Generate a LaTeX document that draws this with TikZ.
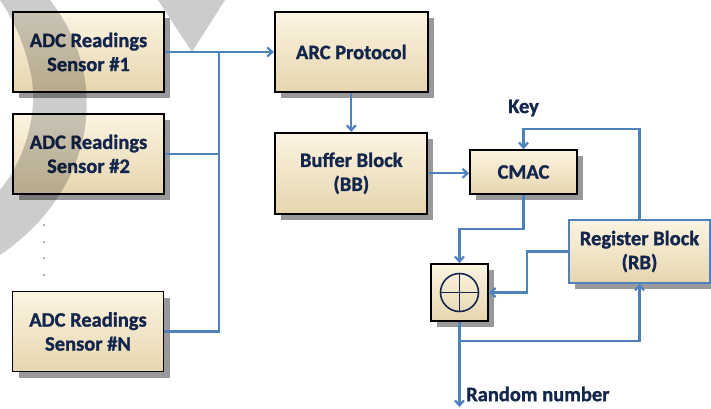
\documentclass[tikz,border=0pt]{standalone}
\usepackage{fontspec}
\setmainfont{Carlito}[BoldFeatures={FakeBold=1.2}]
\usepackage{xcolor}
\usetikzlibrary{arrows.meta, positioning, shadows, calc}

\definecolor{boxtop}{RGB}{252,244,226}
\definecolor{boxbot}{RGB}{230,214,174}
\definecolor{linkblue}{RGB}{79,129,189}
\definecolor{textblue}{RGB}{20,38,76}

\begin{document}
\begin{tikzpicture}[
    x=1pt, y=-1pt,
    >={Straight Barb[length=5pt, width=9pt]},
    block/.style={draw, line width=1.8pt, top color=boxtop, bottom color=boxbot, align=center,
        font=\bfseries\fontsize{20.5}{24}\selectfont, text=textblue, inner sep=0pt,
        drop shadow={shadow xshift=6pt, shadow yshift=-6pt, fill=black, opacity=.4}},
    sensor/.style={block, minimum width=151pt, minimum height=80pt},
    wire/.style={draw=linkblue, line width=2.2pt},
    tag/.style={font=\bfseries\fontsize{20.5}{24}\selectfont, text=textblue, inner sep=0pt}
]
\useasboundingbox (0,0) rectangle (711,408);

% inputs
\node[sensor] (Sensor1) at (88.5,52) {ADC Readings\\Sensor \#1};
\node[sensor, below=20pt of Sensor1] (Sensor2) {ADC Readings\\Sensor \#2};
\node[sensor] (SensorN) at (88,331.5) {ADC Readings\\Sensor \#N};
\foreach \y in {225,242,258,275}
    \fill[gray] (44,\y) circle (1pt);

% processing chain
\node[block, minimum width=153pt, minimum height=80pt, right=109pt of Sensor1] (ARC) {ARC Protocol};
\node[block, minimum width=152pt, minimum height=81pt, below=39pt of ARC] (Buffer) {Buffer Block\\(BB)};
\node[block, minimum width=107pt, minimum height=44pt] (CMAC) at (523.5,172) {CMAC};
\node[block, draw=linkblue, line width=1.4pt, minimum width=141pt, minimum height=63pt] (Register) at (639.5,251.5) {Register Block\\(RB)};
\node[block, minimum width=57pt, minimum height=57pt] (Xor) at (459.5,292.5) {};
\node[circle, draw=textblue, line width=1.6pt, minimum size=38pt, inner sep=0pt] (XorSign) at (Xor.center) {};
\draw[textblue, line width=1.6pt] (XorSign.north) -- (XorSign.south) (XorSign.west) -- (XorSign.east);

\node[tag] (Key) at (523.5,108) {Key};
\node[tag, anchor=west] (Rand) at (466,394) {Random number};

% connections
\coordinate (BusTop) at (219,52);
\coordinate (BusBot) at (219,331.5);
\draw[wire, ->] (Sensor1) -- (ARC);
\draw[wire] (BusTop) -- (BusBot) -- (SensorN.east);
\draw[wire] (Sensor2.east) -- (Sensor2.east -| BusTop);
\draw[wire, ->] (ARC) -- (Buffer);
\draw[wire, ->] (Buffer.east) -- (Buffer.east -| CMAC.west);
\draw[wire, ->] (CMAC.south) -- ++(0,34) -| (Xor.north);
\draw[wire, ->] (Register.west) -- ++(-41,0) |- (Xor.east);
\draw[wire, ->] (Register.north) -- ++(0,-90) -| (CMAC.north);
\coordinate (Tap) at (459.5,341);
\coordinate (Out) at (459.5,407);
\draw[wire] (Xor.south) -- (Tap);
\draw[wire, ->] (Tap) -| (Register.south);
\draw[wire, ->] (Tap) -- (Out);

% watermark
\fill[black, opacity=.2] (50,0) .. controls (85,45) and (95,100) .. (80,150)
    .. controls (65,200) and (30,235) .. (0,255) -- (0,190)
    .. controls (25,160) and (40,110) .. (30,70) .. controls (22,35) and (10,15) .. (0,0) -- cycle;
\fill[black, opacity=.2] (158,0) -- (225,0) -- (192,52) -- cycle;
\end{tikzpicture}
\end{document}
